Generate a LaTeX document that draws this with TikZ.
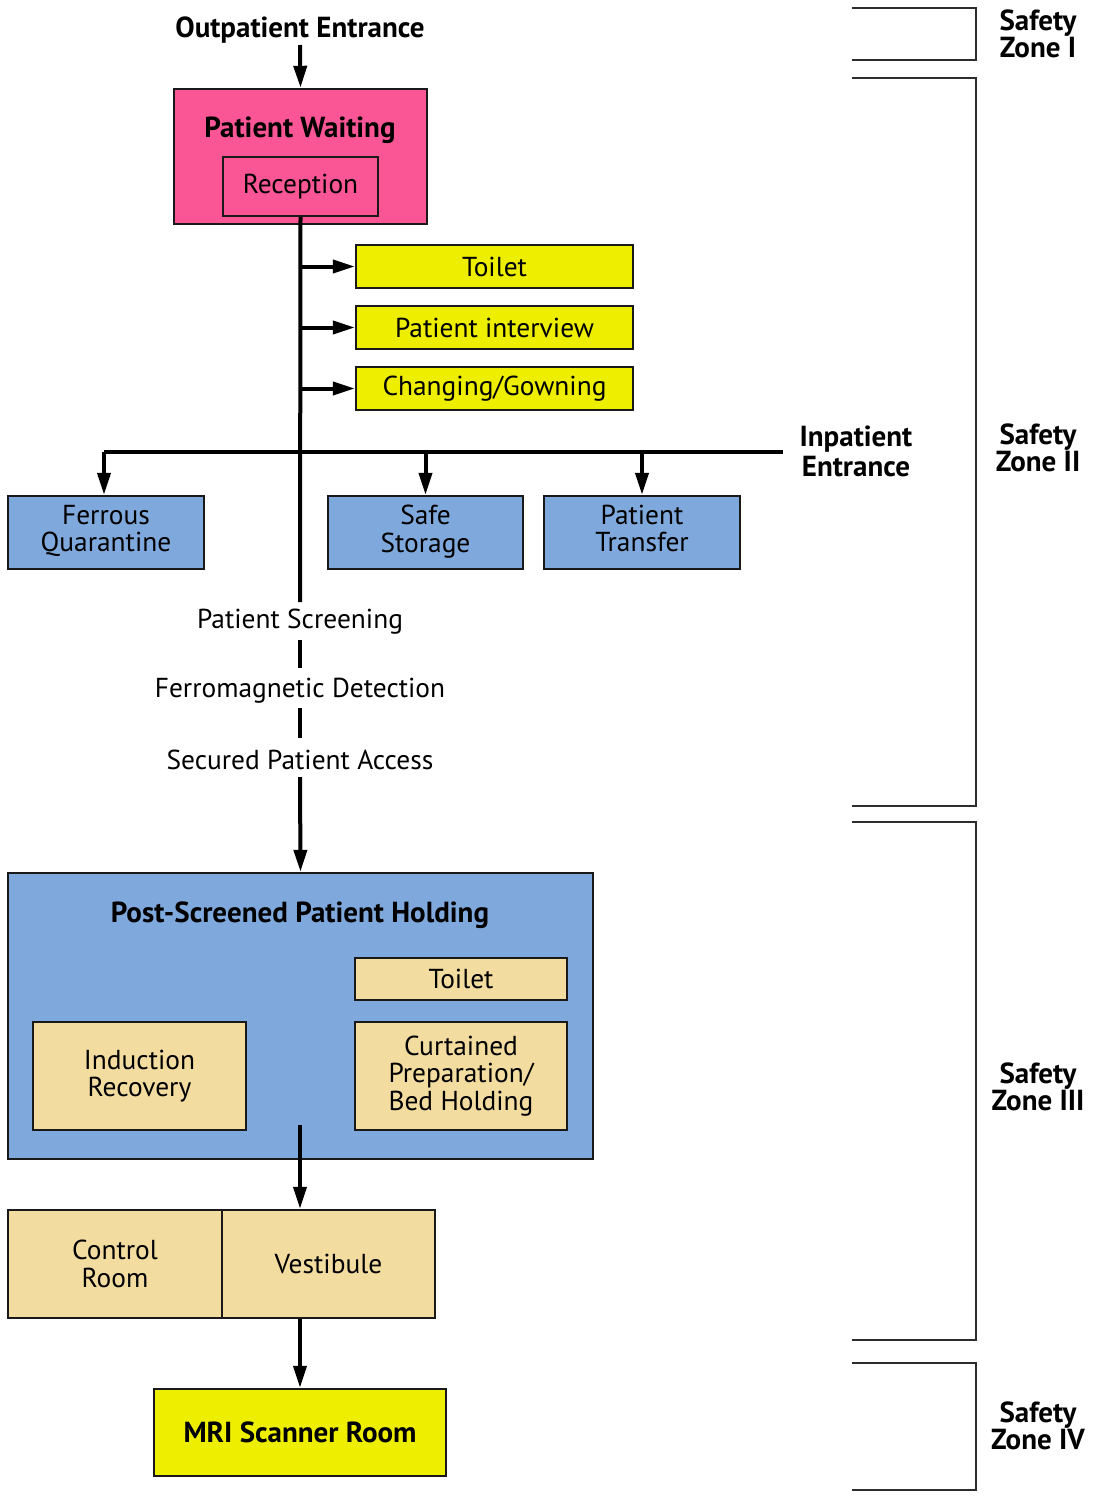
\documentclass[tikz,border=0pt]{standalone}
\usepackage{fontspec}
\setmainfont{PT Sans}
\usetikzlibrary{arrows.meta}
\definecolor{pinkf}{RGB}{250,86,150}
\definecolor{yelf}{RGB}{238,238,0}
\definecolor{bluef}{RGB}{127,168,220}
\definecolor{tanf}{RGB}{243,220,160}
\definecolor{brk}{RGB}{45,45,45}
\newcommand{\regf}{\fontsize{27.4}{27.5}\selectfont}
\newcommand{\boldf}{\fontsize{29}{27.5}\selectfont\bfseries}
\newcommand{\twoline}[2]{\raisebox{-7pt}{\begin{tabular}{@{}c@{}}#1\\#2\end{tabular}}}
\tikzset{
  box/.style={draw=black!90, line width=2.4pt, inner sep=0pt, anchor=center, align=center,
    font=\regf},
  pinkbox/.style={box, fill=pinkf},
  yelbox/.style={box, fill=yelf},
  bluebox/.style={box, fill=bluef},
  tanbox/.style={box, fill=tanf},
  txt/.style={inner sep=0pt, align=center, font=\regf},
  btxt/.style={inner sep=0pt, align=center, font=\boldf},
  flow/.style={line width=4pt, black},
  arr/.style={flow, -{Triangle[length=22pt,width=13pt]}},
  bracket/.style={line width=2.6pt, brk},
}
\begin{document}
\begin{tikzpicture}[x=1pt,y=-1pt]
\useasboundingbox (0,0) rectangle (1101,1498);

% ---- top entrance and waiting
\node[btxt] (outT) at (300,30) {Outpatient Entrance};
\node[pinkbox, minimum width=253pt, minimum height=135pt] (wait) at (300.5,156.5) {};
\node[btxt] (waitT) at (300,130) {Patient Waiting};
\node[pinkbox, minimum width=155pt, minimum height=59pt] (recep) at (300.5,186.5) {\raisebox{-2pt}{Reception}};
\coordinate (outArr) at (300,45);
\draw[arr] (outArr) -- (wait.north);

% ---- yellow rooms
\node[yelbox, minimum width=277pt, minimum height=43pt] (toilet1) at (494.5,266.5) {Toilet};
\node[yelbox, minimum width=277pt, minimum height=43pt] (interv) at (494.5,327.5) {Patient interview};
\node[yelbox, minimum width=277pt, minimum height=43pt] (gown) at (494.5,388.5) {Changing/Gowning};

% ---- blue rooms
\node[bluebox, minimum width=196pt, minimum height=73pt] (ferr) at (106,532.5) {\twoline{Ferrous}{Quarantine}};
\node[bluebox, minimum width=195pt, minimum height=73pt] (safe) at (425.5,532.5) {\twoline{Safe}{Storage}};
\node[bluebox, minimum width=196pt, minimum height=73pt] (trans) at (642,532.5) {\twoline{Patient}{Transfer}};
\node[btxt, font=\fontsize{29}{30}\selectfont\bfseries] (inpT) at (856,451) {Inpatient\\Entrance};

% ---- screening texts
\node[txt] (scrT) at (300,622) {Patient Screening};
\node[txt] (ferroT) at (300,691) {Ferromagnetic Detection};
\node[txt] (secT) at (300,760) {Secured Patient Access};

% ---- trunk
\coordinate (hl) at (104,452);
\coordinate (hr) at (783,452);
\coordinate (trunkEnd) at (300,602);
\draw[flow] (recep.south) -- (trunkEnd);
\foreach \n in {toilet1,interv,gown}{
  \draw[arr] (\n.west -| recep.south) -- (\n.west);
}
\draw[flow] (hl) -- (hr);
\draw[arr] (hl) -- (hl |- ferr.north);
\draw[arr] (safe.north |- hl) -- (safe.north);
\draw[arr] (trans.north |- hl) -- (trans.north);
\coordinate (s1a) at (300,640); \coordinate (s1b) at (300,668);
\coordinate (s2a) at (300,708); \coordinate (s2b) at (300,738);
\draw[flow] (s1a) -- (s1b);
\draw[flow] (s2a) -- (s2b);

% ---- post-screened holding
\node[bluebox, minimum width=585pt, minimum height=286pt] (hold) at (300.5,1016) {};
\node[btxt] (holdT) at (300,915) {Post-Screened Patient Holding};
\node[tanbox, minimum width=212pt, minimum height=42pt] (toilet2) at (461,979) {Toilet};
\node[tanbox, minimum width=213pt, minimum height=108pt] (induct) at (139.5,1076) {Induction\\Recovery};
\node[tanbox, minimum width=212pt, minimum height=108pt] (curt) at (461,1076) {Curtained\\Preparation/\\Bed Holding};
\coordinate (s3a) at (300,777);
\draw[arr] (s3a) -- (hold.north);

% ---- control / vestibule
\node[tanbox, minimum width=214pt, minimum height=108pt] (ctrl) at (115,1264) {Control\\Room};
\node[tanbox, minimum width=213pt, minimum height=108pt] (vest) at (328.5,1264) {Vestibule};
\coordinate (hs) at (300,1125);
\draw[arr] (hs) -- (hs |- vest.north);

% ---- MRI
\node[yelbox, minimum width=292pt, minimum height=87pt, font=\boldf] (mri) at (300,1432.5) {MRI Scanner Room};
\draw[arr] (mri.north |- vest.south) -- (mri.north);

% ---- safety zone brackets
\draw[bracket] (852,8) -- (976,8) -- (976,60) -- (852,60);
\draw[bracket] (852,78) -- (976,78) -- (976,806) -- (852,806);
\draw[bracket] (852,822) -- (976,822) -- (976,1340) -- (852,1340);
\draw[bracket] (852,1363) -- (976,1363) -- (976,1490) -- (852,1490);
\node[btxt] (z1) at (1038,34) {Safety\\Zone I};
\node[btxt] (z2) at (1038,448) {Safety\\Zone II};
\node[btxt] (z3) at (1038,1087) {Safety\\Zone III};
\node[btxt] (z4) at (1038,1426) {Safety\\Zone IV};
\end{tikzpicture}
\end{document}
